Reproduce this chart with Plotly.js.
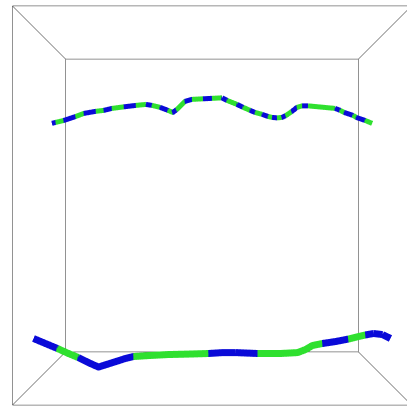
<!DOCTYPE html>
<html><head><meta charset="utf-8">
<script src="https://cdn.plot.ly/plotly-3.0.1.min.js"></script>
<style>html,body{margin:0;padding:0;background:#fff;overflow:hidden;width:407px;height:407px}
#plot{position:absolute;left:0;top:4px;width:424px;height:403px}</style>
</head><body><div id="plot"></div>
<script>
// Axis ranges of the scene box
const xRange = [-1, 1], yRange = [-1, 1], zRange = [-1, 1];

// Upper tube centre line (data units) and colour of each segment (0 = blue, 1 = green)
const topX = [-1.000,-0.975,-0.925,-0.850,-0.800,-0.725,-0.675,-0.625,-0.550,-0.475,-0.4125,-0.375,-0.325,-0.275,-0.244,-0.219,-0.169,-0.125,-0.056,0.000,0.0625,0.094,0.156,0.194,0.2375,0.269,0.3125,0.350,0.375,0.406,0.4375,0.4625,0.500,0.531,0.5625,0.600,0.769,0.800,0.825,0.881,0.900,0.956,1.000];
const topZ = [0.5125,0.519,0.531,0.556,0.575,0.588,0.594,0.606,0.616,0.625,0.631,0.625,0.613,0.594,0.581,0.600,0.650,0.6625,0.666,0.669,0.672,0.656,0.631,0.613,0.594,0.581,0.569,0.556,0.550,0.547,0.550,0.5625,0.588,0.613,0.622,0.622,0.606,0.594,0.581,0.5625,0.550,0.531,0.5125];
const topY = 0.354;
const topSeg = [0,1,0,1,0,1,0,1,0,1,0,1,0,1,0,1,0,1,0,1,0,1,0,1,0,1,0,1,0,1,0,1,0,1,0,1,0,1,0,1,0,1];

// Lower tube
const botX = [-1.000,-0.933,-0.866,-0.804,-0.748,-0.681,-0.636,-0.557,-0.485,-0.440,-0.345,-0.249,-0.120,-0.020,0.059,0.132,0.255,0.384,0.479,0.524,0.563,0.619,0.692,0.765,0.821,0.860,0.905,0.955,1.000];
const botZ = [-0.745,-0.773,-0.801,-0.829,-0.852,-0.885,-0.905,-0.880,-0.857,-0.846,-0.840,-0.835,-0.832,-0.829,-0.824,-0.824,-0.829,-0.829,-0.824,-0.807,-0.784,-0.773,-0.762,-0.748,-0.734,-0.725,-0.717,-0.723,-0.745];
const botY = -0.35;
const botSeg = [0,0,1,1,0,0,0,0,0,1,1,1,1,0,0,0,1,1,1,1,1,0,0,1,1,0,0,0];

const palette = ['#0a0ad8', '#2fe02f'];

function build(xs, zs, yc, seg, width) {
  const x = [], y = [], z = [], c = [];
  for (let i = 0; i < seg.length; i++) {
    x.push(xs[i], xs[i+1]);
    z.push(zs[i], zs[i+1]);
    y.push(yc, yc);
    c.push(seg[i], seg[i]);
  }
  return {type:'scatter3d', mode:'lines', x:x, y:y, z:z,
    line:{color:c, colorscale:[[0,palette[0]],[1,palette[1]]], cmin:0, cmax:1, width:width},
    hoverinfo:'skip', showlegend:false};
}

// Box frame: all 12 edges of the axis-range box
function frame() {
  const x = [], y = [], z = [];
  const R = [xRange, yRange, zRange];
  for (let d = 0; d < 3; d++) {
    const o1 = (d + 1) % 3, o2 = (d + 2) % 3;
    for (const a of R[o1]) for (const b of R[o2]) {
      for (const t of R[d]) {
        const p = [0,0,0]; p[d] = t; p[o1] = a; p[o2] = b;
        x.push(p[0]); y.push(p[1]); z.push(p[2]);
      }
      x.push(null); y.push(null); z.push(null);
    }
  }
  return {type:'scatter3d', mode:'lines', x:x, y:y, z:z, connectgaps:false,
    line:{color:'#6e6e6e', width:1.5}, hoverinfo:'skip', showlegend:false};
}

const ax = (r) => ({range:r, showgrid:false, zeroline:false, showticklabels:false,
  ticks:'', ticklen:0, title:{text:''}, showline:false,
  showbackground:false, showspikes:false});

const layout = {
  width:424, height:403, margin:{l:0,r:0,t:0,b:0}, paper_bgcolor:'#fff',
  showlegend:false,
  scene:{
    aspectmode:'manual', aspectratio:{x:1, y:0.443, z:1},
    xaxis:ax(xRange), yaxis:ax(yRange), zaxis:ax(zRange),
    camera:{eye:{x:0, y:-1.44, z:0}, up:{x:0,y:0,z:1}, center:{x:0,y:0,z:0}}
  }
};

Plotly.newPlot('plot', [frame(), build(topX, topZ, topY, topSeg, 10), build(botX, botZ, botY, botSeg, 14)], layout, {displayModeBar:false});
</script></body></html>
